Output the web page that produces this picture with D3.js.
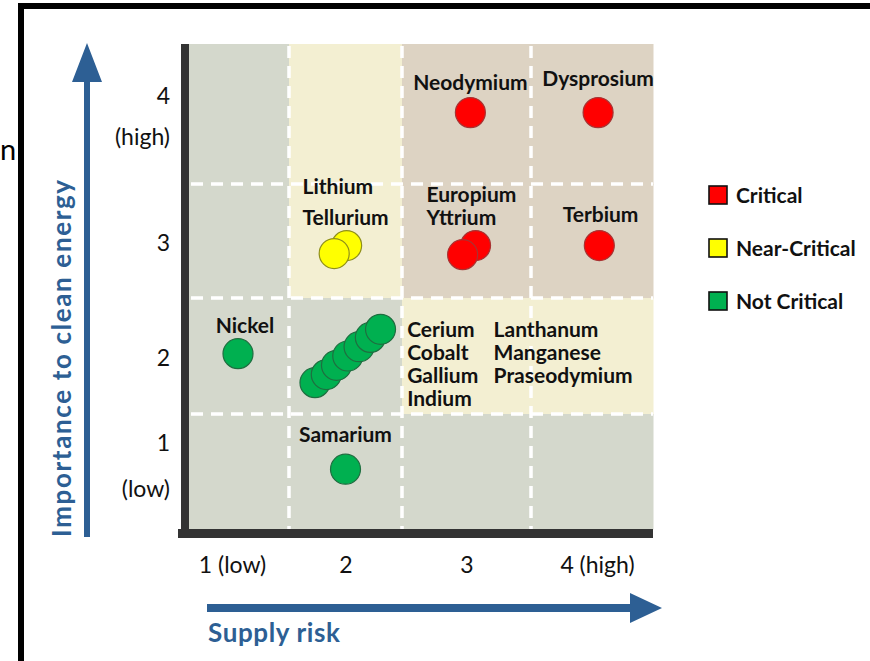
<!DOCTYPE html>
<html>
<head>
<meta charset="utf-8">
<script src="https://cdn.jsdelivr.net/npm/d3@7"></script>
<style>
  html, body { margin: 0; padding: 0; background: #fff; }
  svg { display: block; font-family: Lato, "Open Sans", sans-serif; }
</style>
</head>
<body>
<div id="viz"></div>
<script>
"use strict";

// elements, supply risk (x) and importance to clean energy (y), 1..4
var elements = ["Neodymium", "Dysprosium", "Europium", "Yttrium", "Terbium",
	"Lithium", "Tellurium", "Nickel",
	"Cerium", "Cobalt", "Gallium", "Indium", "Lanthanum", "Manganese", "Praseodymium",
	"Samarium"];
var supplyRisk = [3.03, 4.05, 3.07, 2.97, 4.06,
	2.01, 1.90, 0.99,
	1.73, 1.83, 1.92, 2.02, 2.12, 2.22, 2.31,
	2.00];
var importance = [4.01, 4.01, 2.96, 2.88, 2.96,
	2.96, 2.89, 2.02,
	1.77, 1.84, 1.92, 2.00, 2.08, 2.16, 2.23,
	1.02];
var elementStatus = ["Critical", "Critical", "Critical", "Critical", "Critical",
	"Near-Critical", "Near-Critical", "Not Critical",
	"Not Critical", "Not Critical", "Not Critical", "Not Critical", "Not Critical", "Not Critical", "Not Critical",
	"Not Critical"];

var statusNames = ["Critical", "Near-Critical", "Not Critical"];

var xTickLabels = [["1 (low)"], ["2"], ["3"], ["4 (high)"]];
var yTickLabels = [["1", "(low)"], ["2"], ["3"], ["4", "(high)"]];

// background zones, rows from importance 4 down to 1, columns supply risk 1..4
var zoneRows = [
	["low", "near", "crit", "crit"],
	["low", "near", "crit", "crit"],
	["low", "low", "near", "near"],
	["low", "low", "low", "low"]
];

// annotation labels, anchored in data units
var labelText = [["Neodymium"], ["Dysprosium"], ["Lithium", "Tellurium"], ["Europium", "Yttrium"],
	["Terbium"], ["Nickel"], ["Cerium", "Cobalt", "Gallium", "Indium"],
	["Lanthanum", "Manganese", "Praseodymium"], ["Samarium"]];
var labelX = [3.03, 4.05, 1.62, 2.69, 4.07, 1.06, 2.54, 3.21, 2.00];
var labelY = [4.17, 4.20, 3.41, 3.34, 3.17, 2.20, 2.16, 2.16, 1.26];
var labelAlign = ["middle", "middle", "start", "start", "middle", "middle", "start", "start", "middle"];

var width = 870, height = 661;
var blue = "#2d5f94";
var zoneColor = { low: "#d4d8cc", near: "#f3efd2", crit: "#ddd3c3" };
var fillColor = d3.scaleOrdinal().domain(statusNames).range(["#ff0000", "#ffff00", "#00b050"]);
var edgeColor = d3.scaleOrdinal().domain(statusNames).range(["#a83232", "#8f8f1a", "#1f6e40"]);

// the cells are not all equal in the original, so piecewise scales
var x = d3.scaleLinear()
	.domain([0.5, 1.5, 2.5, 3.5, 4.5])
	.range([189, 289, 402, 531, 653]);
var y = d3.scaleLinear()
	.domain([0.5, 1.5, 2.5, 3.5, 4.5])
	.range([529, 414, 298, 184, 44]);

var svg = d3.select("#viz")
	.append("svg")
	.attr("width", width)
	.attr("height", height);

// outer frame (only top and left edges show)
svg.append("path")
	.attr("d", "M21," + height + "V6H" + width)
	.attr("fill", "none")
	.attr("stroke", "#000")
	.attr("stroke-width", 6);

svg.append("text")
	.attr("x", 0)
	.attr("y", 160)
	.attr("font-size", "29px")
	.attr("fill", "#000")
	.text("n");

// zones
var cells = [];
zoneRows.forEach(function(row, r) {
	row.forEach(function(z, c) {
		cells.push({ col: c + 1, row: 4 - r, zone: z });
	});
});

svg.append("g")
	.selectAll("rect")
	.data(cells)
	.enter()
	.append("rect")
	.attr("x", function(d) { return x(d.col - 0.5) })
	.attr("y", function(d) { return y(d.row + 0.5) })
	.attr("width", function(d) { return x(d.col + 0.5) - x(d.col - 0.5) + 0.5 })
	.attr("height", function(d) { return y(d.row - 0.5) - y(d.row + 0.5) + 0.5 })
	.attr("fill", function(d) { return zoneColor[d.zone] });

// dashed grid
var grid = svg.append("g")
	.attr("stroke", "#fff")
	.attr("stroke-width", 3.5)
	.attr("stroke-dasharray", "12,8");

grid.selectAll("line.v")
	.data([1.5, 2.5, 3.5])
	.enter()
	.append("line")
	.attr("class", "v")
	.attr("x1", function(d) { return x(d) })
	.attr("x2", function(d) { return x(d) })
	.attr("y1", y.range()[4] + 2)
	.attr("y2", y.range()[0]);

grid.selectAll("line.h")
	.data([1.5, 2.5, 3.5])
	.enter()
	.append("line")
	.attr("class", "h")
	.attr("y1", function(d) { return y(d) })
	.attr("y2", function(d) { return y(d) })
	.attr("x1", x.range()[0] + 2)
	.attr("x2", x.range()[4]);

// axis bars
svg.append("rect")
	.attr("x", 181).attr("y", 44)
	.attr("width", 8).attr("height", 494)
	.attr("fill", "#333");
svg.append("rect")
	.attr("x", 178).attr("y", 529)
	.attr("width", 475).attr("height", 9)
	.attr("fill", "#333");

// tick labels via d3 axes
var xAxis = svg.append("g")
	.attr("transform", "translate(0,538)")
	.call(d3.axisBottom(x)
		.tickValues([1, 2, 3, 4])
		.tickSize(0)
		.tickPadding(0)
		.tickFormat(""));
xAxis.select(".domain").remove();
xAxis.selectAll(".tick text")
	.attr("y", 35)
	.attr("dy", 0)
	.attr("dx", function(d) { return d == 1 ? -7 : d == 4 ? 5 : 0 })
	.attr("font-size", "23px")
	.attr("font-family", "Lato, sans-serif")
	.attr("fill", "#111")
	.text(function(d) { return xTickLabels[d - 1][0] });

// first line / second line baselines, relative to the tick
var twoLineShift = { "4": [-11, 30], "1": [-21, 25] };

var yAxis = svg.append("g")
	.attr("transform", "translate(181,0)")
	.call(d3.axisLeft(y)
		.tickValues([1, 2, 3, 4])
		.tickSize(0)
		.tickPadding(0)
		.tickFormat(""));
yAxis.select(".domain").remove();
yAxis.selectAll(".tick text")
	.attr("x", -11)
	.attr("dy", 0)
	.attr("font-size", "23px")
	.attr("font-family", "Lato, sans-serif")
	.attr("fill", "#111")
	.each(function(d) {
		var lines = yTickLabels[d - 1];
		var t = d3.select(this);
		if (lines.length == 1) {
			t.append("tspan").attr("x", -11).attr("y", 9).text(lines[0]);
		} else {
			var s = twoLineShift[lines[0]];
			t.append("tspan").attr("x", -11).attr("y", s[0]).text(lines[0]);
			t.append("tspan").attr("x", -11).attr("y", s[1]).text(lines[1]);
		}
	});

// points
svg.append("g")
	.selectAll("circle")
	.data(elements)
	.enter()
	.append("circle")
	.attr("cx", function(d, i) { return x(supplyRisk[i]) })
	.attr("cy", function(d, i) { return y(importance[i]) })
	.attr("r", 15)
	.attr("fill", function(d, i) { return fillColor(elementStatus[i]) })
	.attr("stroke", function(d, i) { return edgeColor(elementStatus[i]) })
	.attr("stroke-width", 1.2);

// labels
var labels = svg.append("g")
	.attr("font-size", "21px")
	.attr("font-weight", "bold")
	.attr("fill", "#111");

labelText.forEach(function(lines, i) {
	var t = labels.append("text")
		.attr("text-anchor", labelAlign[i]);
	var step = lines[0] == "Lithium" ? 31 : 23;
	lines.forEach(function(s, k) {
		t.append("tspan")
			.attr("x", x(labelX[i]))
			.attr("y", y(labelY[i]) + k * step)
			.text(s);
	});
});

// legend
var legend = svg.append("g")
	.selectAll("g")
	.data(statusNames)
	.enter()
	.append("g")
	.attr("transform", function(d, i) { return "translate(709," + (186 + i * 53) + ")" });

legend.append("rect")
	.attr("width", 18)
	.attr("height", 18)
	.attr("fill", function(d) { return fillColor(d) })
	.attr("stroke", "#111")
	.attr("stroke-width", 1.6);

legend.append("text")
	.attr("x", 27)
	.attr("y", 17)
	.attr("font-size", "21px")
	.attr("font-weight", "bold")
	.attr("fill", "#111")
	.text(function(d) { return d });

// blue arrows and axis titles
svg.append("path")
	.attr("d", "M84,537V82H72L87,43L102,82H90V537Z")
	.attr("fill", blue);

svg.append("path")
	.attr("d", "M207,604H630V593L662,608L630,623V612H207Z")
	.attr("fill", blue);

svg.append("text")
	.attr("transform", "translate(71,537) rotate(-90)")
	.attr("font-size", "26px")
	.attr("font-weight", "bold")
	.attr("fill", blue)
	.attr("textLength", 357)
	.attr("lengthAdjust", "spacing")
	.text("Importance to clean energy");

svg.append("text")
	.attr("x", 208)
	.attr("y", 642)
	.attr("font-size", "26px")
	.attr("font-weight", "bold")
	.attr("fill", blue)
	.attr("textLength", 132)
	.attr("lengthAdjust", "spacing")
	.text("Supply risk");
</script>
</body>
</html>
